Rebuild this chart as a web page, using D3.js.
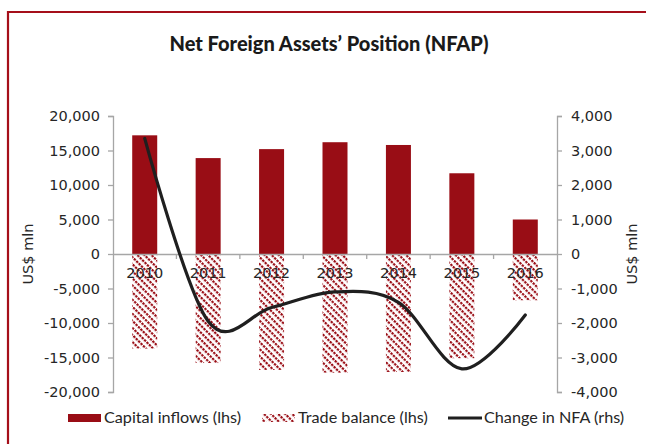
<!DOCTYPE html>
<html>
<head>
<meta charset="utf-8">
<script src="https://cdn.jsdelivr.net/npm/d3@7"></script>
<style>
  body { margin: 0; background: #fff; }
  svg { display: block; }
</style>
</head>
<body>
<div id="chart"></div>
<script>
// Data
const years = ['2010', '2011', '2012', '2013', '2014', '2015', '2016']
const capitalInflows = [17200, 13900, 15200, 16200, 15800, 11700, 5000]
const tradeBalance = [-13700, -15800, -16800, -17200, -17100, -15100, -6700]
const changeNFA = [3350, -1950, -1550, -1100, -1400, -3330, -1770]
const leftTicks = [20000, 15000, 10000, 5000, 0, -5000, -10000, -15000, -20000]
const rightTicks = [4000, 3000, 2000, 1000, 0, -1000, -2000, -3000, -4000]
const seriesNames = ['Capital inflows (lhs)', 'Trade balance (lhs)', 'Change in NFA (rhs)']

const width = 646,
      height = 444,
      margin = { top: 116, right: 89, bottom: 52, left: 113 },
      innerW = width - margin.left - margin.right,
      innerH = height - margin.top - margin.bottom,
      red = '#990d15',
      axisGrey = '#a6a6a6',
      textCol = '#262626',
      font = 'DejaVu Sans, sans-serif'

const fmt = v => d3.format(',')(v).replace('−', '-')

const svg = d3.select('#chart').append('svg')
  .attr('width', width)
  .attr('height', height)

// hatch pattern for the trade balance bars (dotted downward diagonals)
const defs = svg.append('defs')
const pat = defs.append('pattern')
  .attr('id', 'hatch')
  .attr('patternUnits', 'userSpaceOnUse')
  .attr('patternTransform', 'rotate(45)')
  .attr('width', 3.4).attr('height', 5)
pat.append('rect').attr('x', 0).attr('y', 0).attr('width', 2.4).attr('height', 2.2).attr('fill', red)

// frame
svg.append('path')
  .attr('d', `M8,${height} L8,12 L${width},12`)
  .attr('fill', 'none')
  .attr('stroke', '#a50f1a')
  .attr('stroke-width', 2.2)

svg.append('text')
  .attr('x', 329).attr('y', 51)
  .attr('text-anchor', 'middle')
  .attr('font-family', 'Lato, sans-serif')
  .attr('font-weight', 900)
  .attr('font-size', 20)
  .attr('fill', '#1a1a1a')
  .text('Net Foreign Assets’ Position (NFAP)')

const g = svg.append('g').attr('transform', `translate(${margin.left},${margin.top})`)

const x = d3.scaleBand().domain(years).range([0, innerW])
const yL = d3.scaleLinear().domain([-20000, 20000]).range([innerH, 0])
const yR = d3.scaleLinear().domain([-4000, 4000]).range([innerH, 0])
const barW = 25

// axes
const leftAxis = g.append('g')
  .call(d3.axisLeft(yL).tickValues(leftTicks).tickFormat(fmt).tickSize(5).tickPadding(8))
const rightAxis = g.append('g')
  .attr('transform', `translate(${innerW},0)`)
  .call(d3.axisRight(yR).tickValues(rightTicks).tickFormat(fmt).tickSize(5).tickPadding(9))
;[leftAxis, rightAxis].forEach(a => {
  a.select('.domain').attr('stroke', axisGrey).attr('stroke-width', 1.3)
  a.selectAll('.tick line').attr('stroke', axisGrey).attr('stroke-width', 1.3)
  a.selectAll('.tick text').attr('fill', textCol).attr('font-size', 14.5).attr('font-family', font)
})

// bars
g.selectAll('.cap').data(years).join('rect')
  .attr('class', 'cap')
  .attr('x', (d) => x(d) + (x.bandwidth() - barW) / 2)
  .attr('width', barW)
  .attr('y', (d, i) => yL(capitalInflows[i]))
  .attr('height', (d, i) => yL(0) - yL(capitalInflows[i]))
  .attr('fill', red)

g.selectAll('.trade').data(years).join('rect')
  .attr('class', 'trade')
  .attr('x', (d) => x(d) + (x.bandwidth() - barW) / 2)
  .attr('width', barW)
  .attr('y', yL(0))
  .attr('height', (d, i) => yL(tradeBalance[i]) - yL(0))
  .attr('fill', 'url(#hatch)')

// category axis at zero
const xAxis = g.append('g')
  .attr('transform', `translate(0,${yL(0)})`)
  .call(d3.axisBottom(x).tickSize(0).tickPadding(14))
xAxis.select('.domain').attr('stroke', axisGrey).attr('stroke-width', 1.3)
xAxis.selectAll('.tick text').attr('fill', textCol).attr('font-size', 14.5).attr('font-family', font)
xAxis.selectAll('.sep').data(d3.range(1, years.length)).join('line')
  .attr('class', 'sep')
  .attr('x1', i => i * x.step()).attr('x2', i => i * x.step())
  .attr('y1', 0).attr('y2', 5)
  .attr('stroke', axisGrey).attr('stroke-width', 1.3)

// line on rhs axis, smoothed like the spreadsheet
const line = d3.line()
  .x((d, i) => x(years[i]) + x.bandwidth() / 2)
  .y(d => yR(d))
  .curve(d3.curveCatmullRom.alpha(0))
g.append('path')
  .datum(changeNFA)
  .attr('d', line)
  .attr('fill', 'none')
  .attr('stroke', '#1f1f1f')
  .attr('stroke-width', 3.2)
  .attr('stroke-linecap', 'round')

// axis titles
svg.append('text')
  .attr('transform', `translate(33,254) rotate(-90)`)
  .attr('text-anchor', 'middle')
  .attr('font-family', font).attr('font-size', 14.5).attr('fill', textCol)
  .text('US$ mln')
svg.append('text')
  .attr('transform', `translate(637,254) rotate(-90)`)
  .attr('text-anchor', 'middle')
  .attr('font-family', font).attr('font-size', 14.5).attr('fill', textCol)
  .text('US$ mln')

// legend
const legY = 418
const legend = svg.append('g').attr('font-family', 'Lato, sans-serif').attr('font-size', 16.2).attr('fill', textCol)
const legX = [68, 262, 448]
legend.append('rect').attr('x', legX[0]).attr('y', legY - 4).attr('width', 33).attr('height', 8).attr('fill', red)
legend.append('rect').attr('x', legX[1]).attr('y', legY - 4).attr('width', 33).attr('height', 8).attr('fill', 'url(#hatch)')
legend.append('line').attr('x1', legX[2]).attr('x2', legX[2] + 34).attr('y1', legY).attr('y2', legY)
  .attr('stroke', '#1f1f1f').attr('stroke-width', 3)
legend.selectAll('.lt').data(seriesNames).join('text')
  .attr('class', 'lt')
  .attr('x', (d, i) => legX[i] + 36)
  .attr('y', legY + 5)
  .text(d => d)
</script>
</body>
</html>
